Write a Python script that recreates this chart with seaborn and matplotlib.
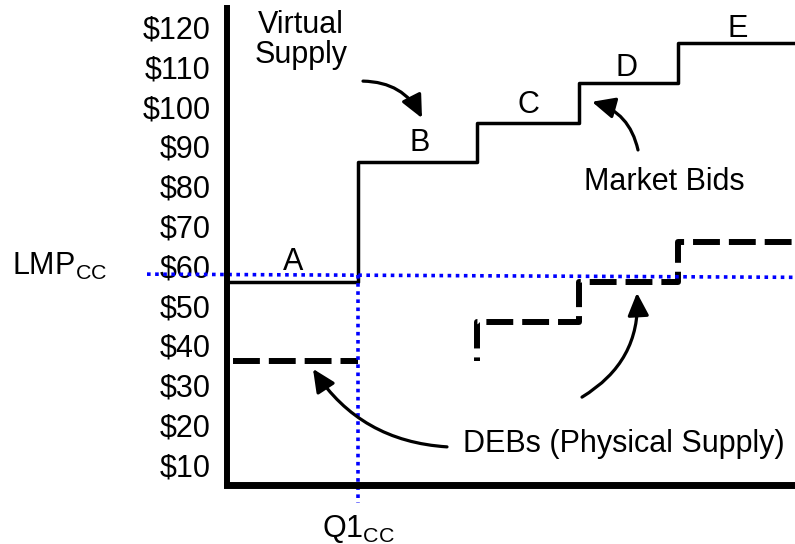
import matplotlib
matplotlib.use("Agg")
import matplotlib.pyplot as plt
import matplotlib.transforms as mtransforms
import seaborn as sns

# ---- data ----
# cumulative quantity breakpoints of the offer steps (arbitrary quantity units)
qty_breaks = [0, 131, 250, 352, 451, 568]
bid_labels = ["A", "B", "C", "D", "E"]
bid_prices = [55, 85, 95, 105, 115]          # virtual supply + market bids ($)
deb_first_q = [6, 131]
deb_first_p = [35, 35]                         # DEB under segment A
deb_q = [250, 250, 352, 451, 568]
deb_p = [35, 45, 55, 65, 65]                   # DEBs under segments C..E
lmp_q = [-80, 568]
lmp_p = [56.9, 56.1]                           # LMP_CC clearing line
q1_cc = 131
yticks = [10, 20, 30, 40, 50, 60, 70, 80, 90, 100, 110, 120]
ytick_labels = ["$" + str(v) for v in yticks]

sns.set_theme(style="white")
plt.rcParams["font.family"] = ["Liberation Sans", "DejaVu Sans"]
plt.rcParams["mathtext.fontset"] = "custom"
plt.rcParams["mathtext.rm"] = "Liberation Sans"
plt.rcParams["mathtext.it"] = "Liberation Sans:italic"
plt.rcParams["text.color"] = "black"
plt.rcParams["ytick.color"] = "black"
plt.rcParams["ytick.labelcolor"] = "black"
plt.rcParams["axes.labelcolor"] = "black"

fig = plt.figure(figsize=(7.95, 5.44), dpi=100)
ax = fig.add_axes([227 / 795, 59 / 544, 1 - 227 / 795, (485 - 8) / 544])

FS = 22
BLUE = "#0000ff"
DOT = (0, (1.0, 1.25))

# supply step line
sns.lineplot(x=qty_breaks, y=bid_prices + [bid_prices[-1]], ax=ax, color="black",
             lw=2.5, drawstyle="steps-post", estimator=None, sort=False)
# DEB dashed lines
sns.lineplot(x=deb_first_q, y=deb_first_p, ax=ax, color="black", lw=4.3,
             linestyle=(0, (4.5, 1.5)), estimator=None, sort=False)
sns.lineplot(x=deb_q, y=deb_p, ax=ax, color="black", lw=4.3,
             linestyle=(3.9, (4.5, 1.5)), drawstyle="steps-post",
             estimator=None, sort=False)
# LMP dotted line and Q1 line
sns.lineplot(x=lmp_q, y=lmp_p, ax=ax, color=BLUE, lw=2.6,
             linestyle=DOT, estimator=None, sort=False, clip_on=False)
lmp_at_q1 = lmp_p[0] + (lmp_p[1] - lmp_p[0]) * (q1_cc - lmp_q[0]) / (lmp_q[1] - lmp_q[0])
sns.lineplot(x=[q1_cc, q1_cc], y=[lmp_at_q1, -0.6], ax=ax, color=BLUE, lw=2.6,
             linestyle=DOT, estimator=None, sort=False, clip_on=False)

ax.set_xlim(0, 568)
ax.set_ylim(3.92, 123.77)
ax.set_xticks([])
ax.set_yticks(yticks)
ax.set_yticklabels(ytick_labels, fontsize=FS, color="black")
ax.tick_params(axis="y", length=0, pad=12)
offset = mtransforms.ScaledTranslation(0, -4 / 100, fig.dpi_scale_trans)
for lbl in ax.get_yticklabels():
    lbl.set_transform(lbl.get_transform() + offset)
ax.set_xlabel("")
ax.set_ylabel("")
for s in ["top", "right"]:
    ax.spines[s].set_visible(False)
ax.spines["left"].set_linewidth(4.3)
ax.spines["bottom"].set_linewidth(5.0)
ax.spines["left"].set_color("black")
ax.spines["bottom"].set_color("black")

# segment letters
letter_pos = [(66, 58.0), (193, 87.8), (301, 97.3), (400, 106.7), (511, 116.4)]
for lab, (x, y) in zip(bid_labels, letter_pos):
    ax.text(x, y, lab, fontsize=FS, ha="center", va="baseline", color="black")

ax.text(74, 117.5, "Virtual", fontsize=FS, ha="center", va="baseline", color="black")
ax.text(74, 110.0, "Supply", fontsize=FS, ha="center", va="baseline", color="black")
ax.text(437, 78.0, "Market Bids", fontsize=FS, ha="center", va="baseline", color="black")
ax.text(236, 12.2, "DEBs (Physical Supply)", fontsize=FS, ha="left", va="baseline", color="black")
ax.text(-215, 56.6, r"LMP$_{\mathrm{CC}}$", fontsize=FS, ha="left", va="baseline",
        clip_on=False, color="black")
ax.text(95, -9.2, r"Q1$_{\mathrm{CC}}$", fontsize=FS, ha="left", va="baseline",
        clip_on=False, color="black")

astyle = "-|>,head_length=0.6,head_width=0.28"
arrows = [((136, 105.4), (195, 96.1), -0.3),
          ((411, 88.1), (365, 100.2), 0.3),
          ((220, 13.5), (86, 33.1), -0.25),
          ((355, 26.0), (410, 52.2), 0.3)]
for tail, tip, rad in arrows:
    ax.annotate("", xy=tip, xytext=tail,
                arrowprops=dict(arrowstyle=astyle, color="black", lw=2.3,
                                mutation_scale=23, shrinkA=0, shrinkB=0,
                                connectionstyle=f"arc3,rad={rad}"))

fig.savefig("out.png", dpi=100)
